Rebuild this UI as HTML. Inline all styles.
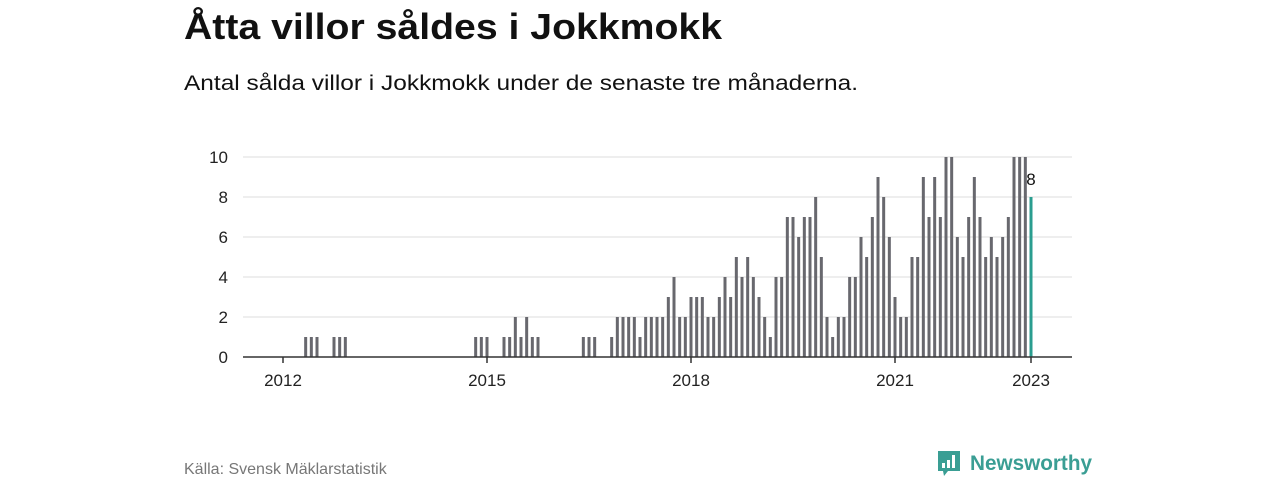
<!DOCTYPE html>
<html><head><meta charset="utf-8"><style>
html,body{margin:0;padding:0;background:#fff;width:1280px;height:480px;overflow:hidden}
svg{display:block;font-family:"Liberation Sans",sans-serif}
</style></head><body>
<svg id="chart" width="1280" height="480">
<text x="184" y="39" font-size="36" font-weight="bold" fill="#111" textLength="538" lengthAdjust="spacingAndGlyphs">Åtta villor såldes i Jokkmokk</text>
<text x="184" y="90" font-size="21" fill="#111" textLength="674" lengthAdjust="spacingAndGlyphs">Antal sålda villor i Jokkmokk under de senaste tre månaderna.</text>
<g id="grid"></g><g id="bars"></g><g id="xaxis"></g>
<text x="184" y="474" font-size="16" fill="#777">Källa: Svensk Mäklarstatistik</text>
<g>
<path d="M938 451 h22 v20 h-12 l-4 5 l-1 -5 h-5 z" fill="#3a9e94"/>
<rect x="942" y="463" width="3" height="5" fill="#fff"/><rect x="947" y="460" width="3" height="8" fill="#fff"/><rect x="952" y="455" width="3" height="13" fill="#fff"/>
<text x="970" y="470" font-size="21" font-weight="bold" fill="#3a9e94" textLength="122" lengthAdjust="spacingAndGlyphs">Newsworthy</text>
</g>
</svg>
<script>
const startYear = 2012;
const yTicks = [0,2,4,6,8,10];
const xTickYears = [2012,2015,2018,2021,2023];
const values = [
0,0,0,0,1,1,1,0,0,1,1,1,
0,0,0,0,0,0,0,0,0,0,0,0,
0,0,0,0,0,0,0,0,0,0,1,1,
1,0,0,1,1,2,1,2,1,1,0,0,
0,0,0,0,0,1,1,1,0,0,1,2,
2,2,2,1,2,2,2,2,3,4,2,2,
3,3,3,2,2,3,4,3,5,4,5,4,
3,2,1,4,4,7,7,6,7,7,8,5,
2,1,2,2,4,4,6,5,7,9,8,6,
3,2,2,5,5,9,7,9,7,10,10,6,
5,7,9,7,5,6,5,6,7,10,10,10,
8];
const NS="http://www.w3.org/2000/svg";
const x0=283, pxPerMonth=204/36, y0=357, pxPerUnit=20;
const xs=m=>x0+m*pxPerMonth, ys=v=>y0-v*pxPerUnit;
const grid=document.getElementById('grid'), bars=document.getElementById('bars'), xa=document.getElementById('xaxis');
function mk(tag,attrs,parent){const e=document.createElementNS(NS,tag);for(const k in attrs)e.setAttribute(k,attrs[k]);parent.appendChild(e);return e;}
yTicks.forEach(t=>{
  if(t>0){const l=mk('line',{x1:243,x2:1072,y1:ys(t),y2:ys(t),stroke:'#dcdcdc','stroke-width':1},grid);
  
  }
  const tx=mk('text',{x:228,y:ys(t)+6,'font-size':17,fill:'#222','text-anchor':'end'},grid);tx.textContent=t;
  
  
});
values.forEach((v,i)=>{
  if(v<=0)return;
  const last=i===values.length-1;
  const r=mk('rect',{x:xs(i)-1.5,y:ys(v),width:3,height:v*pxPerUnit,fill:last?'#2a9d8f':'#68686e'},bars);
  
  
});
const li=values.length-1;
const lab=mk('text',{x:xs(li),y:ys(values[li])-12,'font-size':17,fill:'#111','text-anchor':'middle'},bars);
lab.textContent=values[li];


const ax=mk('line',{x1:243,x2:1072,y1:y0,y2:y0,stroke:'#333','stroke-width':1.5},xa);


xTickYears.forEach(y=>{
  const x=xs((y-startYear)*12);
  mk('line',{x1:x,x2:x,y1:y0,y2:y0+6,stroke:'#333','stroke-width':1.5},xa);
  const t=mk('text',{x:x,y:386,'font-size':17,fill:'#222','text-anchor':'middle'},xa);t.textContent=y;
  
  
});
</script>
</body></html>
